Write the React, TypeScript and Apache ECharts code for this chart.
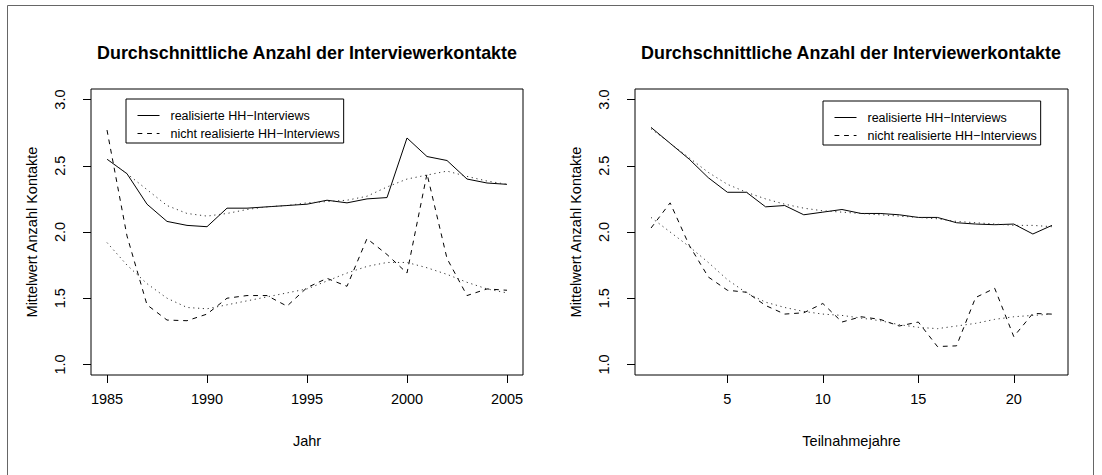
import React, { useEffect, useRef } from "react";
import * as echarts from "echarts";

const titleText = "Durchschnittliche Anzahl der Interviewerkontakte";
const yAxisTitle = "Mittelwert Anzahl Kontakte";
const xTitleLeft = "Jahr";
const xTitleRight = "Teilnahmejahre";
const nameReal = "realisierte HH\u2212Interviews";
const nameNicht = "nicht realisierte HH\u2212Interviews";

const years = [1985, 1986, 1987, 1988, 1989, 1990, 1991, 1992, 1993, 1994, 1995, 1996, 1997, 1998, 1999, 2000, 2001, 2002, 2003, 2004, 2005];
const realYear = [2.55, 2.44, 2.21, 2.08, 2.05, 2.04, 2.18, 2.18, 2.19, 2.2, 2.21, 2.24, 2.22, 2.25, 2.26, 2.71, 2.57, 2.54, 2.4, 2.37, 2.36];
const nichtYear = [2.77, 1.97, 1.45, 1.335, 1.33, 1.38, 1.5, 1.52, 1.52, 1.44, 1.58, 1.65, 1.59, 1.95, 1.83, 1.69, 2.44, 1.8, 1.52, 1.57, 1.56];
const realYearFit = [2.55, 2.44, 2.32, 2.2, 2.14, 2.12, 2.14, 2.17, 2.19, 2.2, 2.22, 2.23, 2.24, 2.27, 2.34, 2.4, 2.43, 2.46, 2.42, 2.385, 2.36];
const nichtYearFit = [1.92, 1.75, 1.61, 1.5, 1.43, 1.42, 1.45, 1.48, 1.51, 1.54, 1.57, 1.63, 1.69, 1.74, 1.77, 1.77, 1.73, 1.68, 1.62, 1.57, 1.54];

const teilJahre = [1, 2, 3, 4, 5, 6, 7, 8, 9, 10, 11, 12, 13, 14, 15, 16, 17, 18, 19, 20, 21, 22];
const realTeil = [2.79, 2.67, 2.55, 2.41, 2.3, 2.3, 2.19, 2.2, 2.13, 2.15, 2.17, 2.14, 2.14, 2.13, 2.11, 2.11, 2.07, 2.06, 2.055, 2.06, 1.985, 2.05];
const nichtTeil = [2.03, 2.22, 1.9, 1.66, 1.56, 1.545, 1.445, 1.38, 1.39, 1.46, 1.32, 1.36, 1.34, 1.29, 1.32, 1.135, 1.14, 1.505, 1.575, 1.21, 1.385, 1.38];
const realTeilFit = [2.78, 2.67, 2.56, 2.45, 2.36, 2.3, 2.25, 2.21, 2.18, 2.16, 2.15, 2.14, 2.13, 2.12, 2.11, 2.1, 2.08, 2.07, 2.06, 2.05, 2.05, 2.04];
const nichtTeilFit = [2.11, 2.0, 1.89, 1.77, 1.64, 1.54, 1.47, 1.43, 1.4, 1.38, 1.37, 1.35, 1.33, 1.3, 1.28, 1.27, 1.29, 1.31, 1.34, 1.36, 1.37, 1.38];

const yearTicks = [1985, 1990, 1995, 2000, 2005];
const teilTicks = [5, 10, 15, 20];
const yTicks = [1.0, 1.5, 2.0, 2.5, 3.0];

const FONT = "Liberation Sans";
const BASE = 14.5;

function pairs(xs: number[], ys: number[]) {
  return xs.map((x, i) => [x, ys[i]]);
}

function xAxisDef(gridIndex: number, min: number, max: number, ticks: number[], name: string) {
  return {
    type: "value",
    gridIndex,
    min,
    max,
    name,
    nameLocation: "middle",
    nameGap: 58,
    nameTextStyle: { fontFamily: FONT, fontSize: BASE, color: "#000" },
    axisLine: { show: false },
    splitLine: { show: false },
    axisTick: { show: true, inside: false, length: 8, customValues: ticks, lineStyle: { color: "#000", width: 1 } },
    axisLabel: { customValues: ticks, margin: 16, fontFamily: FONT, fontSize: BASE, color: "#000", formatter: (v: number) => String(v) },
  };
}

function yAxisDef(gridIndex: number) {
  return {
    type: "value",
    gridIndex,
    min: 0.92,
    max: 3.08,
    name: yAxisTitle,
    nameLocation: "middle",
    nameGap: 52,
    nameTextStyle: { fontFamily: FONT, fontSize: BASE, color: "#000" },
    axisLine: { show: false },
    splitLine: { show: false },
    axisTick: { show: true, inside: false, length: 8, customValues: yTicks, lineStyle: { color: "#000", width: 1 } },
    axisLabel: {
      customValues: yTicks,
      rotate: 90,
      margin: 24,
      fontFamily: FONT,
      fontSize: BASE,
      color: "#000",
      formatter: (v: number) => v.toFixed(1),
    },
  };
}

function lineSeries(name: string, idx: number, data: number[][], type: any, color: string) {
  return {
    type: "line",
    name,
    xAxisIndex: idx,
    yAxisIndex: idx,
    data,
    symbol: "none",
    silent: true,
    itemStyle: { color },
    lineStyle: { color, width: 1, type },
    z: 3,
  };
}

const DASH = [4.8, 4.8];
const DOT = [1.2, 3.6];

function legendDef(left: number, top: number) {
  return {
    data: [nameReal, nameNicht],
    left,
    top,
    orient: "vertical",
    selectedMode: false,
    borderColor: "#000",
    borderWidth: 1,
    padding: [10, 4, 3, 11],
    itemWidth: 22,
    itemHeight: 10,
    itemGap: 5,
    itemStyle: { color: "rgba(0,0,0,0)", borderWidth: 0 },
    lineStyle: { width: 1 },
    textStyle: { fontFamily: FONT, fontSize: 12.5, color: "#000", padding: [0, 0, 0, 6] },
  };
}

export default function App() {
  const ref = useRef<HTMLDivElement>(null);
  useEffect(() => {
    document.body.style.margin = "0";
    if (!ref.current) return;
    const chart = echarts.init(ref.current, null, { renderer: "svg" });
    const titleStyle = { fontFamily: FONT, fontSize: 17.9, fontWeight: "bold", color: "#000" };
    chart.setOption({
      animation: false,
      backgroundColor: "#fff",
      title: [
        { text: titleText, left: 307, top: 44, padding: 0, textAlign: "center", textStyle: titleStyle },
        { text: titleText, left: 851, top: 44, padding: 0, textAlign: "center", textStyle: titleStyle },
      ],
      legend: [legendDef(126, 99), legendDef(823, 101)],
      grid: [
        { left: 91, top: 89, width: 432, height: 286, show: true, borderColor: "#000", borderWidth: 1, backgroundColor: "transparent" },
        { left: 635, top: 89, width: 433, height: 286, show: true, borderColor: "#000", borderWidth: 1, backgroundColor: "transparent" },
      ],
      xAxis: [
        xAxisDef(0, 1984.2, 2005.8, yearTicks, xTitleLeft),
        xAxisDef(1, 0.16, 22.84, teilTicks, xTitleRight),
      ],
      yAxis: [yAxisDef(0), yAxisDef(1)],
      graphic: [
        {
          type: "polyline",
          shape: { points: [[7.5, 475], [7.5, 5.5], [1093.5, 5.5], [1093.5, 475]] },
          style: { stroke: "#666", lineWidth: 1, fill: "none" },
          silent: true,
        },
      ],
      series: [
        lineSeries(nameReal, 0, pairs(years, realYear), "solid", "#000"),
        lineSeries(nameNicht, 0, pairs(years, nichtYear), DASH, "#000"),
        lineSeries("Glättung realisiert (Jahr)", 0, pairs(years, realYearFit), DOT, "#333"),
        lineSeries("Glättung nicht realisiert (Jahr)", 0, pairs(years, nichtYearFit), DOT, "#333"),
        lineSeries(nameReal, 1, pairs(teilJahre, realTeil), "solid", "#000"),
        lineSeries(nameNicht, 1, pairs(teilJahre, nichtTeil), DASH, "#000"),
        lineSeries("Glättung realisiert (Teilnahme)", 1, pairs(teilJahre, realTeilFit), DOT, "#333"),
        lineSeries("Glättung nicht realisiert (Teilnahme)", 1, pairs(teilJahre, nichtTeilFit), DOT, "#333"),
      ],
    });
    return () => chart.dispose();
  }, []);
  return <div ref={ref} style={{ width: 1102, height: 475 }} />;
}
